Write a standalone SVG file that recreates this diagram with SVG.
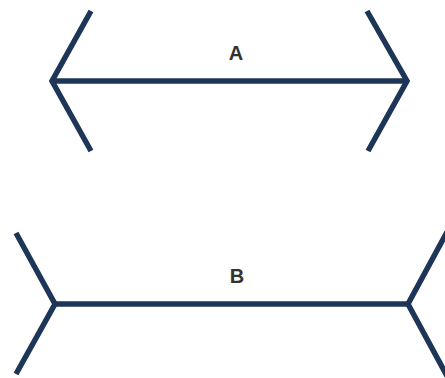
<svg xmlns="http://www.w3.org/2000/svg" width="445" height="378" viewBox="0 0 445 378">
<style>
.ln{stroke:#1d3557;stroke-width:5.5;fill:none;stroke-linejoin:miter;stroke-linecap:butt}
.lbl{font-family:"Liberation Sans",Arial,sans-serif;font-weight:bold;font-size:20px;fill:#333333;text-anchor:middle}
</style>
<rect width="445" height="378" fill="#ffffff"/>
<g id="figA">
<path class="ln" d="M52,81 H407"/>
<path class="ln" d="M91,11 L52,81 L91,151"/>
<path class="ln" d="M367,11 L407,81 L368,151"/>
<text class="lbl" x="236" y="60">A</text>
</g>
<g id="figB">
<path class="ln" d="M55,304 H408"/>
<path class="ln" d="M16,233 L55,304 L16,374"/>
<path class="ln" d="M447,232 L408,304 L447,376"/>
<text class="lbl" x="237" y="283">B</text>
</g>
</svg>
